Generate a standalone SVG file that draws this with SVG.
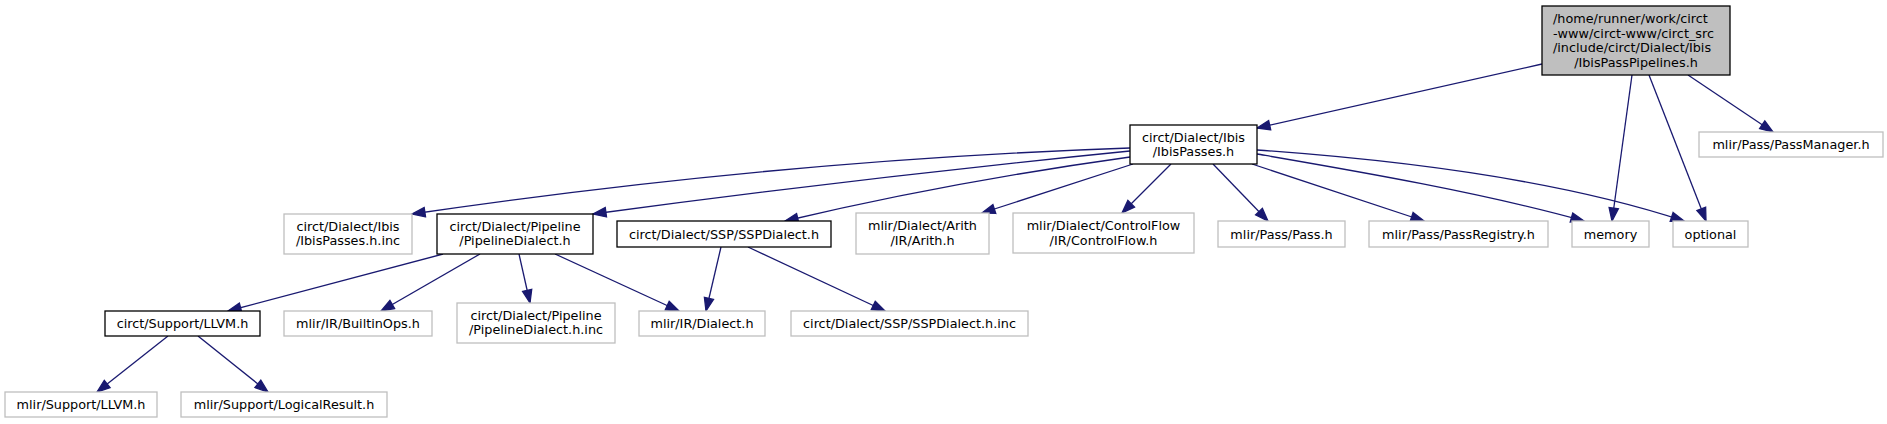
<svg xmlns="http://www.w3.org/2000/svg" width="1887" height="424" viewBox="0 0 1887 424">
<style>
text{font-family:"DejaVu Sans","Liberation Sans",sans-serif;font-size:12.8px;fill:#000;text-anchor:middle}
.l{text-anchor:start}
.n{fill:#fff;stroke:#bfbfbf;stroke-width:1.3}
.d{fill:#fff;stroke:#000;stroke-width:1.3}
.r{fill:#bfbfbf;stroke:#000;stroke-width:1.3}
.e path{fill:none;stroke:#191970;stroke-width:1.3;marker-end:url(#a)}
</style>
<defs>
<marker id="a" markerUnits="userSpaceOnUse" markerWidth="15" markerHeight="12" refX="13" refY="6" orient="auto" overflow="visible">
<path d="M0,1.3 L13,6 L0,10.7 Z" fill="#191970" stroke="#191970" stroke-width="1.3"/>
</marker>
</defs>
<rect width="1887" height="424" fill="#fff"/>
<g class="e" id="edges">
<path d="M1542,64 L1257,128"/>
<path d="M1632,75 L1612,221"/>
<path d="M1649,75 L1706,221"/>
<path d="M1688,75 L1773,132"/>
<path d="M1130,148 Q780,160 412,214"/>
<path d="M1130,151 Q860,178 593,214"/>
<path d="M1130,157 Q950,182 785,221"/>
<path d="M1133,164 L982,213"/>
<path d="M1171,164 L1122,213"/>
<path d="M1213,164 L1268,221"/>
<path d="M1252,164 L1424,221"/>
<path d="M1257,154 C1350,170 1480,192 1584,221"/>
<path d="M1257,150 C1400,160 1560,180 1684,221"/>
<path d="M443,254 L228,311"/>
<path d="M480,254 L381,311"/>
<path d="M519,254 L530,303"/>
<path d="M555,254 L679,311"/>
<path d="M721,247 L706,311"/>
<path d="M748,247 L885,311"/>
<path d="M168,336 L97,392"/>
<path d="M198,336 L268,392"/>
</g>
<g id="root"><rect class="r" x="1542" y="6" width="188" height="69"/>
<text class="l" x="1553" y="23">/home/runner/work/circt</text>
<text class="l" x="1553" y="37.5">-www/circt-www/circt_src</text>
<text class="l" x="1553" y="52">/include/circt/Dialect/Ibis</text>
<text x="1636" y="66.5">/IbisPassPipelines.h</text></g>
<g id="ibispasses"><rect class="d" x="1130" y="125" width="127" height="39"/>
<text x="1193.5" y="141.5">circt/Dialect/Ibis</text><text x="1193.5" y="156">/IbisPasses.h</text></g>
<g id="ibispasses_inc"><rect class="n" x="284" y="214" width="128" height="40"/>
<text x="348" y="230.5">circt/Dialect/Ibis</text><text x="348" y="245">/IbisPasses.h.inc</text></g>
<g id="pipelinedialect"><rect class="d" x="437" y="214" width="156" height="40"/>
<text x="515" y="230.5">circt/Dialect/Pipeline</text><text x="515" y="245">/PipelineDialect.h</text></g>
<g id="sspdialect"><rect class="d" x="617" y="221" width="214" height="26"/>
<text x="724" y="238.5">circt/Dialect/SSP/SSPDialect.h</text></g>
<g id="arith"><rect class="n" x="856" y="213" width="133" height="41"/>
<text x="922.5" y="230">mlir/Dialect/Arith</text><text x="922.5" y="244.5">/IR/Arith.h</text></g>
<g id="controlflow"><rect class="n" x="1013" y="213" width="181" height="40"/>
<text x="1103.5" y="230">mlir/Dialect/ControlFlow</text><text x="1103.5" y="244.5">/IR/ControlFlow.h</text></g>
<g id="pass"><rect class="n" x="1218" y="221" width="127" height="26"/>
<text x="1281.5" y="238.5">mlir/Pass/Pass.h</text></g>
<g id="passregistry"><rect class="n" x="1369" y="221" width="179" height="26"/>
<text x="1458.5" y="238.5">mlir/Pass/PassRegistry.h</text></g>
<g id="memory"><rect class="n" x="1572" y="221" width="77" height="26"/>
<text x="1610.5" y="238.5">memory</text></g>
<g id="optional"><rect class="n" x="1673" y="221" width="75" height="26"/>
<text x="1710.5" y="238.5">optional</text></g>
<g id="passmanager"><rect class="n" x="1699" y="132" width="184" height="25"/>
<text x="1791" y="149">mlir/Pass/PassManager.h</text></g>
<g id="circt_llvm"><rect class="d" x="105" y="311" width="155" height="25"/>
<text x="182.5" y="328">circt/Support/LLVM.h</text></g>
<g id="builtinops"><rect class="n" x="284" y="311" width="148" height="25"/>
<text x="358" y="328">mlir/IR/BuiltinOps.h</text></g>
<g id="pipeline_inc"><rect class="n" x="457" y="303" width="158" height="40"/>
<text x="536" y="319.5">circt/Dialect/Pipeline</text><text x="536" y="334">/PipelineDialect.h.inc</text></g>
<g id="dialect"><rect class="n" x="639" y="311" width="126" height="25"/>
<text x="702" y="328">mlir/IR/Dialect.h</text></g>
<g id="ssp_inc"><rect class="n" x="791" y="311" width="237" height="25"/>
<text x="909.5" y="328">circt/Dialect/SSP/SSPDialect.h.inc</text></g>
<g id="mlir_llvm"><rect class="n" x="5" y="392" width="152" height="25"/>
<text x="81" y="409">mlir/Support/LLVM.h</text></g>
<g id="logicalresult"><rect class="n" x="181" y="392" width="206" height="25"/>
<text x="284" y="409">mlir/Support/LogicalResult.h</text></g>
</svg>
